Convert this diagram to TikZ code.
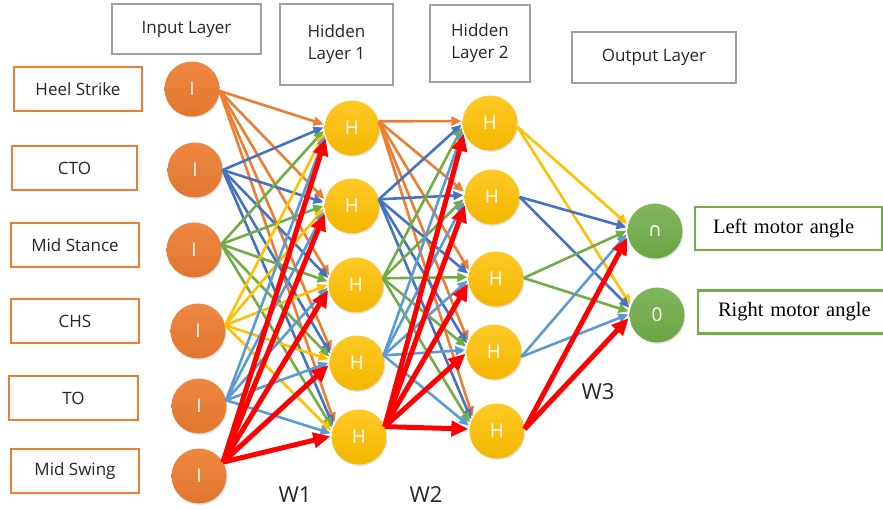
\documentclass[tikz,border=0pt]{standalone}
\usepackage{fontspec}
\setmainfont{Open Sans}
\newfontfamily\serifb{Liberation Serif}
\newfontfamily\dejavu{DejaVu Sans}
\usetikzlibrary{arrows.meta,shadows}
\definecolor{corange}{HTML}{ED7D31}
\definecolor{cdblue}{HTML}{4472C4}
\definecolor{cgreen}{HTML}{70AD47}
\definecolor{cgold}{HTML}{FFC000}
\definecolor{clblue}{HTML}{5B9BD5}
\definecolor{cred}{HTML}{FF0000}
\definecolor{cgray}{HTML}{A0A0A0}
\definecolor{ctext}{HTML}{262626}
\begin{document}
\begin{tikzpicture}[x=1pt,y=-1pt,
  neuron/.style={circle, minimum size=55pt, inner sep=0pt, text=white,
    font=\fontsize{19}{19}\selectfont,
    drop shadow={shadow xshift=1pt, shadow yshift=-1.5pt, opacity=0.22}},
  inneuron/.style={neuron, top color=corange!92!white, bottom color=corange!95!black},
  hidneuron/.style={neuron, top color=cgold!85!white, bottom color=cgold!95!black},
  outneuron/.style={neuron, top color=cgreen!88!white, bottom color=cgreen!95!black},
  lblbox/.style={draw=corange, line width=1.8pt, fill=white, minimum height=44pt,
    inner sep=0pt, text=ctext, font=\fontsize{17}{17}\selectfont},
  topbox/.style={draw=cgray, line width=2pt, fill=white, inner sep=0pt,
    align=center, text=ctext, font=\fontsize{17}{22}\selectfont},
  motbox/.style={draw=cgreen, line width=2.2pt, fill=white, minimum height=43pt,
    inner ysep=0pt, align=left, font=\serifb\fontsize{20.5}{20.5}\selectfont},
  wlabel/.style={text=ctext, font=\fontsize{22}{22}\selectfont},
  wire/.style={line width=2.6pt, -{Triangle[length=10pt,width=9pt]}},
  bigwire/.style={line width=5pt, -{Triangle[length=17pt,width=15pt]}}
]
\useasboundingbox (0,0) rectangle (883,510);

% label boxes
\node[lblbox, minimum width=128pt] (lHS) at (78,89) {Heel Strike};
\node[lblbox, minimum width=125pt] (lCTO) at (74.5,168) {CTO};
\node[lblbox, minimum width=128pt] (lMS) at (75,245) {Mid Stance};
\node[lblbox, minimum width=128pt] (lCHS) at (75,321) {CHS};
\node[lblbox, minimum width=129pt] (lTO) at (73.5,398) {TO};
\node[lblbox, minimum width=128pt] (lMW) at (75,471) {Mid Swing};

% top boxes
\node[topbox, minimum width=149pt, minimum height=50pt] (tIn) at (186.5,29) {Input Layer};
\node[topbox, minimum width=113pt, minimum height=81pt] (tH1) at (336.5,44.5) {Hidden\\Layer 1};
\node[topbox, minimum width=100pt, minimum height=77pt] (tH2) at (480,43.5) {Hidden\\Layer 2};
\node[topbox, minimum width=164pt, minimum height=51pt] (tOut) at (654,57.5) {Output Layer};

% neurons
\node[inneuron] (I1) at (192,89) {I};
\node[inneuron] (I2) at (195,170) {I};
\node[inneuron] (I3) at (194,250) {I};
\node[inneuron] (I4) at (198,331) {I};
\node[inneuron] (I5) at (199,406) {I};
\node[inneuron] (I6) at (199,476) {I};
\node[hidneuron] (A1) at (352,128) {H};
\node[hidneuron] (A2) at (352,206) {H};
\node[hidneuron] (A3) at (356,285) {H};
\node[hidneuron] (A4) at (357,363) {H};
\node[hidneuron] (A5) at (359,437) {H};
\node[hidneuron] (B1) at (490,123) {H};
\node[hidneuron] (B2) at (492,197) {H};
\node[hidneuron] (B3) at (496,279) {H};
\node[hidneuron] (B4) at (494,352) {H};
\node[hidneuron] (B5) at (497,431) {H};
\node[outneuron] (O1) at (655,231) {\dejavu\fontsize{19}{19}\selectfont ∩};
\node[outneuron] (O2) at (657,315) {0};

% input -> hidden 1
\foreach \s/\c/\st/\sa in {1/corange/wire/-4,2/cdblue/wire/0,3/cgreen/wire/12,4/cgold/wire/12,5/clblue/wire/12,6/cred/bigwire/30}{
  \foreach \t in {1,...,5}{
    \path (I\s); \pgfgetlastxy{\xa}{\ya}
    \path (A\t); \pgfgetlastxy{\xb}{\yb}
    \pgfmathsetmacro\ea{max(150,min(210,176+0.07*(\yb-\ya)))}
    \draw[\st, color=\c, shorten >=1pt] (I\s.\sa) -- (A\t.\ea);
  }
}
% hidden 1 -> hidden 2
\foreach \s/\c/\st/\sa in {1/corange/wire/14,2/cdblue/wire/14,3/cgreen/wire/14,4/clblue/wire/16,5/cred/bigwire/22}{
  \foreach \t in {1,...,5}{
    \path (A\s); \pgfgetlastxy{\xa}{\ya}
    \path (B\t); \pgfgetlastxy{\xb}{\yb}
    \pgfmathsetmacro\ea{max(150,min(215,176+0.08*(\yb-\ya)))}
    \draw[\st, color=\c, shorten >=1pt] (A\s.\sa) -- (B\t.\ea);
  }
}
% hidden 2 -> output
\foreach \s/\c/\st/\sa in {1/cgold/wire/-8,2/cdblue/wire/0,3/cgreen/wire/2,4/clblue/wire/-10,5/cred/bigwire/4}{
  \foreach \t in {1,2}{
    \path (B\s); \pgfgetlastxy{\xa}{\ya}
    \path (O\t); \pgfgetlastxy{\xb}{\yb}
    \pgfmathsetmacro\ea{max(150,min(210,176+0.08*(\yb-\ya)))}
    \draw[\st, color=\c, shorten >=1pt] (B\s.\sa) -- (O\t.\ea);
  }
}

% motor boxes
\node[motbox, text width=151pt, inner xsep=18pt] (mL) at (788.5,228.5) {Left motor angle};
\node[motbox, text width=157pt, inner xsep=20pt] (mR) at (796.5,312) {Right motor angle};

% weight labels
\node[wlabel] (w1) at (295,495) {W1};
\node[wlabel] (w2) at (426,495) {W2};
\node[wlabel] (w3) at (598,392) {W3};
\end{tikzpicture}
\end{document}
